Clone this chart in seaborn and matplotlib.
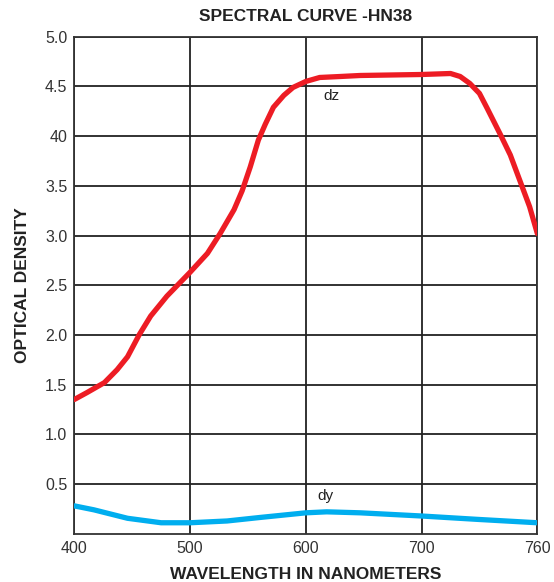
import numpy as np
import pandas as pd
import matplotlib
matplotlib.use("Agg")
import matplotlib.pyplot as plt
import seaborn as sns

# values
dz_wl = [400, 411, 426, 437, 446, 456, 466, 480, 500, 515, 526, 538, 545, 552, 559,
         565, 572, 581, 589, 600, 612, 630, 647, 700, 715, 720, 725, 730, 734, 741,
         746, 751, 756, 760]
dz_od = [1.35, 1.42, 1.52, 1.65, 1.78, 2.00, 2.19, 2.39, 2.63, 2.82, 3.02, 3.26, 3.45, 3.69, 3.96,
         4.12, 4.29, 4.41, 4.49, 4.55, 4.59, 4.60, 4.61, 4.62, 4.63, 4.60, 4.53, 4.43, 4.28, 4.01,
         3.81, 3.55, 3.29, 3.02]
dy_wl = [400, 417, 446, 475, 500, 532, 561, 600, 618, 647, 700, 729, 760]
dy_od = [0.28, 0.24, 0.155, 0.11, 0.11, 0.128, 0.164, 0.21, 0.22, 0.21, 0.178, 0.144, 0.11]

x_ticks = [400, 500, 600, 700, 760]
y_ticks = [0.5, 1.0, 1.5, 2.0, 2.5, 3.0, 3.5, 4.0, 4.5, 5.0]
y_labels = ["0.5", "1.0", "1.5", "2.0", "2.5", "3.0", "3.5", "40", "4.5", "5.0"]

df = pd.concat([
    pd.DataFrame({"wavelength": dz_wl, "density": dz_od, "curve": "dz"}),
    pd.DataFrame({"wavelength": dy_wl, "density": dy_od, "curve": "dy"}),
])

sns.set_style("white")
plt.rcParams["font.family"] = ["Liberation Sans", "DejaVu Sans"]

fig = plt.figure(figsize=(5.54, 5.82), dpi=100)
ax = fig.add_axes([0.1341, 0.0830, 0.8358, 0.8539])

# tick positions are evenly spaced even though 700->760 is shorter
pos = np.arange(len(x_ticks), dtype=float)
def fwd(v):
    return np.interp(v, x_ticks, pos, left=np.nan, right=np.nan)
def inv(v):
    return np.interp(v, pos, x_ticks)
ax.set_xscale("function", functions=(fwd, inv))

sns.lineplot(data=df, x="wavelength", y="density", hue="curve", sort=True,
             palette={"dz": "#ED1C24", "dy": "#00AEEF"}, linewidth=3.8,
             legend=False, ax=ax, estimator=None)
for ln in ax.lines:
    ln.set_solid_capstyle("round")
    ln.set_solid_joinstyle("round")
    ln.set_zorder(3)

ax.set_xlim(400, 760)
ax.set_ylim(0, 5.0)
ax.set_xticks(x_ticks)
ax.set_xticklabels([str(t) for t in x_ticks])
ax.xaxis.set_minor_locator(matplotlib.ticker.NullLocator())
ax.set_yticks(y_ticks)
ax.set_yticklabels(y_labels)
ax.tick_params(length=0, labelsize=11.5, labelcolor="#333333", pad=5)
ax.grid(True, color="#222222", linewidth=1.3)
ax.set_axisbelow(True)
for s in ax.spines.values():
    s.set_color("#333333")
    s.set_linewidth(1.3)

ax.text(615, 4.40, "dz", fontsize=11, color="#222222", va="center", ha="left")
ax.text(610, 0.38, "dy", fontsize=11, color="#222222", va="center", ha="left")

ax.set_title("SPECTRAL CURVE -HN38", fontsize=12.5, fontweight="bold", color="#222222", pad=11)
ax.set_xlabel("WAVELENGTH IN NANOMETERS", fontsize=12.5, fontweight="bold", color="#222222", labelpad=8)
ax.set_ylabel("OPTICAL DENSITY", fontsize=12.5, fontweight="bold", color="#222222", labelpad=11)

fig.savefig("out.png", dpi=100)
